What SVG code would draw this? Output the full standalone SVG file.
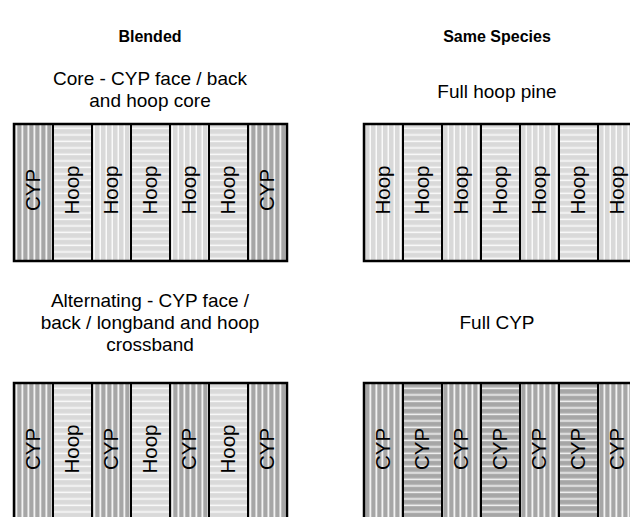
<svg xmlns="http://www.w3.org/2000/svg" width="630" height="517" viewBox="0 0 630 517">
<style>
.hd{font-family:"Liberation Sans",Arial,sans-serif;font-size:16px;font-weight:bold;fill:#000;text-anchor:middle}
.lb{font-family:"Liberation Sans",Arial,sans-serif;font-size:19px;fill:#000;text-anchor:middle}
.bt{font-family:"Liberation Sans",Arial,sans-serif;font-size:20.5px;fill:#000;text-anchor:middle}
.bd{stroke:#000;stroke-width:2}
.fr{fill:none;stroke:#000;stroke-width:2.5}
</style>
<defs>
<pattern id="cypV" patternUnits="userSpaceOnUse" width="6" height="10">
<rect width="6" height="10" fill="#a6a6a6"/>
<rect x="3" width="1" height="10" fill="#cfcfcf"/>
<rect x="4" width="1" height="10" fill="#f2f2f2"/>
<rect x="5" width="1" height="10" fill="#bdbdbd"/>
</pattern>
<pattern id="cypH" patternUnits="userSpaceOnUse" width="10" height="6.5">
<rect width="10" height="6.5" fill="#a6a6a6"/>
<rect y="3.5" width="10" height="1" fill="#d0d0d0"/>
<rect y="4.5" width="10" height="1.2" fill="#f2f2f2"/>
</pattern>
<pattern id="hoopV" patternUnits="userSpaceOnUse" width="6" height="10">
<rect width="6" height="10" fill="#d9d9d9"/>
<rect x="3" width="1" height="10" fill="#e9e9e9"/>
<rect x="4" width="1" height="10" fill="#fafafa"/>
</pattern>
<pattern id="hoopH" patternUnits="userSpaceOnUse" width="10" height="6.5">
<rect width="10" height="6.5" fill="#d9d9d9"/>
<rect y="3.5" width="10" height="1" fill="#e9e9e9"/>
<rect y="4.5" width="10" height="1.2" fill="#fafafa"/>
</pattern>
</defs>
<rect width="630" height="517" fill="#fff"/>

<g id="headers">
<text class="hd" x="150" y="42">Blended</text>
<text class="hd" x="497" y="42">Same Species</text>
</g>
<g id="labels">
<text class="lb" x="150" y="85">Core - CYP face / back</text>
<text class="lb" x="150" y="107">and hoop core</text>
<text class="lb" x="497" y="98">Full hoop pine</text>
<text class="lb" x="150" y="307">Alternating - CYP face /</text>
<text class="lb" x="150" y="329">back / longband and hoop</text>
<text class="lb" x="150" y="351">crossband</text>
<text class="lb" x="497" y="329">Full CYP</text>
</g>

<g id="panel-core">
<g id="core-b1"><rect class="bd" x="14" y="124" width="39" height="137" fill="url(#cypV)"/><text class="bt" transform="translate(33.5,190) rotate(-90)" y="6">CYP</text></g>
<g id="core-b2"><rect class="bd" x="53" y="124" width="39" height="137" fill="url(#hoopH)"/><text class="bt" transform="translate(72.5,190) rotate(-90)" y="6">Hoop</text></g>
<g id="core-b3"><rect class="bd" x="92" y="124" width="39" height="137" fill="url(#hoopV)"/><text class="bt" transform="translate(111.5,190) rotate(-90)" y="6">Hoop</text></g>
<g id="core-b4"><rect class="bd" x="131" y="124" width="39" height="137" fill="url(#hoopH)"/><text class="bt" transform="translate(150.5,190) rotate(-90)" y="6">Hoop</text></g>
<g id="core-b5"><rect class="bd" x="170" y="124" width="39" height="137" fill="url(#hoopV)"/><text class="bt" transform="translate(189.5,190) rotate(-90)" y="6">Hoop</text></g>
<g id="core-b6"><rect class="bd" x="209" y="124" width="39" height="137" fill="url(#hoopH)"/><text class="bt" transform="translate(228.5,190) rotate(-90)" y="6">Hoop</text></g>
<g id="core-b7"><rect class="bd" x="248" y="124" width="39" height="137" fill="url(#cypV)"/><text class="bt" transform="translate(267.5,190) rotate(-90)" y="6">CYP</text></g>
<rect class="fr" x="14" y="124" width="273" height="137"/>
</g>

<g id="panel-hoop">
<g id="hoop-b1"><rect class="bd" x="364" y="124" width="39" height="137" fill="url(#hoopV)"/><text class="bt" transform="translate(383.5,190) rotate(-90)" y="6">Hoop</text></g>
<g id="hoop-b2"><rect class="bd" x="403" y="124" width="39" height="137" fill="url(#hoopH)"/><text class="bt" transform="translate(422.5,190) rotate(-90)" y="6">Hoop</text></g>
<g id="hoop-b3"><rect class="bd" x="442" y="124" width="39" height="137" fill="url(#hoopV)"/><text class="bt" transform="translate(461.5,190) rotate(-90)" y="6">Hoop</text></g>
<g id="hoop-b4"><rect class="bd" x="481" y="124" width="39" height="137" fill="url(#hoopH)"/><text class="bt" transform="translate(500.5,190) rotate(-90)" y="6">Hoop</text></g>
<g id="hoop-b5"><rect class="bd" x="520" y="124" width="39" height="137" fill="url(#hoopV)"/><text class="bt" transform="translate(539.5,190) rotate(-90)" y="6">Hoop</text></g>
<g id="hoop-b6"><rect class="bd" x="559" y="124" width="39" height="137" fill="url(#hoopH)"/><text class="bt" transform="translate(578.5,190) rotate(-90)" y="6">Hoop</text></g>
<g id="hoop-b7"><rect class="bd" x="598" y="124" width="39" height="137" fill="url(#hoopV)"/><text class="bt" transform="translate(617.5,190) rotate(-90)" y="6">Hoop</text></g>
<rect class="fr" x="364" y="124" width="273" height="137"/>
</g>

<g id="panel-alt">
<g id="alt-b1"><rect class="bd" x="14" y="383" width="39" height="137" fill="url(#cypV)"/><text class="bt" transform="translate(33.5,449) rotate(-90)" y="6">CYP</text></g>
<g id="alt-b2"><rect class="bd" x="53" y="383" width="39" height="137" fill="url(#hoopH)"/><text class="bt" transform="translate(72.5,449) rotate(-90)" y="6">Hoop</text></g>
<g id="alt-b3"><rect class="bd" x="92" y="383" width="39" height="137" fill="url(#cypV)"/><text class="bt" transform="translate(111.5,449) rotate(-90)" y="6">CYP</text></g>
<g id="alt-b4"><rect class="bd" x="131" y="383" width="39" height="137" fill="url(#hoopH)"/><text class="bt" transform="translate(150.5,449) rotate(-90)" y="6">Hoop</text></g>
<g id="alt-b5"><rect class="bd" x="170" y="383" width="39" height="137" fill="url(#cypV)"/><text class="bt" transform="translate(189.5,449) rotate(-90)" y="6">CYP</text></g>
<g id="alt-b6"><rect class="bd" x="209" y="383" width="39" height="137" fill="url(#hoopH)"/><text class="bt" transform="translate(228.5,449) rotate(-90)" y="6">Hoop</text></g>
<g id="alt-b7"><rect class="bd" x="248" y="383" width="39" height="137" fill="url(#cypV)"/><text class="bt" transform="translate(267.5,449) rotate(-90)" y="6">CYP</text></g>
<rect class="fr" x="14" y="383" width="273" height="137"/>
</g>

<g id="panel-cyp">
<g id="cyp-b1"><rect class="bd" x="364" y="383" width="39" height="137" fill="url(#cypV)"/><text class="bt" transform="translate(383.5,449) rotate(-90)" y="6">CYP</text></g>
<g id="cyp-b2"><rect class="bd" x="403" y="383" width="39" height="137" fill="url(#cypH)"/><text class="bt" transform="translate(422.5,449) rotate(-90)" y="6">CYP</text></g>
<g id="cyp-b3"><rect class="bd" x="442" y="383" width="39" height="137" fill="url(#cypV)"/><text class="bt" transform="translate(461.5,449) rotate(-90)" y="6">CYP</text></g>
<g id="cyp-b4"><rect class="bd" x="481" y="383" width="39" height="137" fill="url(#cypH)"/><text class="bt" transform="translate(500.5,449) rotate(-90)" y="6">CYP</text></g>
<g id="cyp-b5"><rect class="bd" x="520" y="383" width="39" height="137" fill="url(#cypV)"/><text class="bt" transform="translate(539.5,449) rotate(-90)" y="6">CYP</text></g>
<g id="cyp-b6"><rect class="bd" x="559" y="383" width="39" height="137" fill="url(#cypH)"/><text class="bt" transform="translate(578.5,449) rotate(-90)" y="6">CYP</text></g>
<g id="cyp-b7"><rect class="bd" x="598" y="383" width="39" height="137" fill="url(#cypV)"/><text class="bt" transform="translate(617.5,449) rotate(-90)" y="6">CYP</text></g>
<rect class="fr" x="364" y="383" width="273" height="137"/>
</g>

<g id="connectors"/>
</svg>
